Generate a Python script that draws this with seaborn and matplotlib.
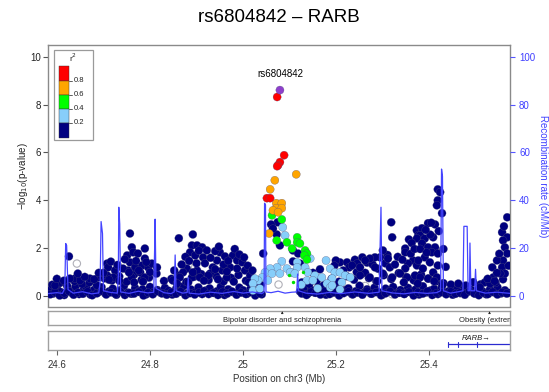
import matplotlib
matplotlib.use("Agg")
import matplotlib.pyplot as plt
from matplotlib.patches import Rectangle
import pandas as pd
import seaborn as sns

TITLE = "rs6804842 \u2013 RARB"
LEAD_SNP = "rs6804842"

# ---- SNP association results: position (Mb, chr3) and -log10(p), by r2 with the lead SNP
lead_pos = [25.079]
lead_logp = [8.61]

red_pos = [25.073, 25.088, 25.079, 25.075, 25.073, 25.051, 25.058]
red_logp = [8.32, 5.88, 5.59, 5.46, 5.42, 4.08, 4.08]

orange_pos = [25.114, 25.068, 25.058, 25.071, 25.083, 25.071, 25.083, 25.064, 25.075, 25.056]
orange_logp = [5.08, 4.83, 4.45, 3.87, 3.87, 3.66, 3.66, 3.57, 3.49, 2.60]

green_pos = [25.062, 25.083, 25.072, 25.094, 25.116, 25.116, 25.122, 25.105, 25.133,
             25.137, 25.131, 25.137]
green_logp = [3.36, 3.19, 2.31, 2.23, 2.44, 2.23, 2.18, 1.97, 1.89, 1.76, 1.68, 1.51]

# a few low-signal green SNPs drawn as small dots
green_small_pos = [25.099, 25.107, 25.128]
green_small_logp = [0.88, 0.55, 1.00]

lightblue_pos = [25.085, 25.090, 25.144, 25.178, 25.083, 25.105, 25.116, 25.116, 25.094,
                 25.073, 25.058, 25.047, 25.062, 25.079, 25.101, 25.111, 25.133, 25.139,
                 25.154, 25.187, 25.197, 25.208, 25.219, 25.169, 25.191, 25.041, 25.032,
                 25.053, 25.137, 25.150, 25.212, 25.180, 25.230, 25.025, 25.021, 25.021,
                 25.036, 25.187, 25.191, 25.208, 25.160, 25.125]
lightblue_logp = [2.86, 2.52, 1.55, 1.47, 1.43, 0.97, 1.39, 1.18, 1.13,
                  1.18, 1.13, 0.97, 0.92, 0.92, 0.97, 0.92, 1.18, 0.97,
                  0.84, 1.13, 0.97, 0.97, 0.84, 0.76, 0.71, 0.76, 0.63,
                  0.63, 0.63, 0.63, 0.55, 0.50, 0.76, 0.71, 0.50, 0.21,
                  0.29, 0.34, 0.42, 0.25, 0.30, 0.45]

navy_pos = [
    # 24.58 - 24.82
    24.757, 24.626, 24.761, 24.708, 24.710, 24.725, 24.639, 24.751, 24.764, 24.774,
    24.789, 24.789, 24.757, 24.768, 24.783, 24.796, 24.753, 24.779, 24.761, 24.789,
    24.742, 24.755, 24.721, 24.708, 24.689, 24.671, 24.650, 24.628, 24.607, 24.596,
    24.804, 24.815,
    24.700, 24.716, 24.730, 24.746, 24.770, 24.776, 24.792, 24.800, 24.734, 24.766,
    24.785, 24.712, 24.600, 24.615, 24.660, 24.680, 24.690, 24.645,
    # 24.84 - 25.02
    24.862, 24.892, 24.890, 24.901, 24.912, 24.922, 24.886, 24.897, 24.914, 24.950,
    24.961, 24.944, 24.978, 24.987, 24.935, 24.879, 24.871, 24.901, 24.929, 24.955,
    24.972, 24.987, 24.965, 24.907, 24.890, 24.864, 24.849, 24.998, 24.925, 24.892,
    25.004, 25.015,
    24.852, 24.868, 24.876, 24.884, 24.905, 24.918, 24.930, 24.940, 24.948, 24.958,
    24.968, 24.982, 24.992, 25.002, 25.010, 25.020, 24.858, 24.882, 24.916, 24.946,
    24.980, 25.012, 24.900, 24.940, 24.965,
    # peak region
    25.043, 25.107, 25.122, 25.074, 25.060, 25.072, 25.079, 25.107, 25.118, 25.208,
    25.223, 25.064, 25.228, 25.199,
    # 25.13 - 25.38
    25.150, 25.165, 25.196, 25.215, 25.240, 25.256, 25.266, 25.278, 25.290, 25.244,
    25.262, 25.288, 25.305, 25.310,
    25.318, 25.320, 25.356, 25.348, 25.348, 25.373, 25.376, 25.300, 25.294, 25.311,
    25.283, 25.272, 25.262, 25.245, 25.234, 25.251, 25.283, 25.315, 25.365, 25.354,
    25.373, 25.348, 25.337, 25.320, 25.300, 25.272, 25.251, 25.352, 25.369,
    # 25.38 - 25.45
    25.418, 25.423, 25.418, 25.416, 25.427, 25.397, 25.412, 25.384, 25.380, 25.373,
    25.390, 25.408, 25.384, 25.397, 25.412, 25.405, 25.418, 25.390, 25.376, 25.401,
    25.418, 25.386, 25.408, 25.380, 25.397, 25.416,
    25.326, 25.332, 25.342, 25.360, 25.362, 25.368, 25.380, 25.394, 25.402, 25.420,
    25.430, 25.435, 25.392, 25.404, 25.345, 25.375, 25.410, 25.428,
    # right edge
    25.567, 25.556, 25.567, 25.558, 25.562, 25.567, 25.558, 25.556, 25.562, 25.545,
    25.535, 25.537, 25.552, 25.519, 25.530, 25.508,
    25.545, 25.550, 25.560, 25.570, 25.525, 25.540,
]
navy_logp = [
    2.60, 1.64, 2.02, 1.34, 1.18, 1.05, 0.71, 1.68, 1.81, 1.76,
    1.97, 1.55, 1.39, 1.18, 1.26, 1.18, 1.05, 0.97, 0.76, 0.76,
    1.13, 0.97, 0.76, 0.84, 0.76, 0.71, 0.63, 0.71, 0.55, 0.42,
    1.34, 1.18,
    0.95, 1.42, 1.28, 1.52, 1.45, 1.05, 1.40, 0.98, 0.62, 0.55,
    0.58, 0.66, 0.70, 0.62, 0.78, 0.68, 0.95, 0.92,
    2.40, 2.56, 2.10, 2.10, 2.02, 1.89, 1.81, 1.68, 1.60, 1.81,
    1.64, 1.47, 1.68, 1.47, 1.18, 1.13, 0.97, 1.05, 0.92, 1.05,
    1.18, 1.13, 0.76, 0.76, 0.76, 0.76, 0.63, 1.39, 0.84, 0.97,
    1.05, 0.84,
    1.05, 1.30, 1.62, 1.45, 1.88, 1.35, 1.58, 1.86, 2.05, 1.30,
    1.45, 1.95, 1.72, 1.60, 1.25, 1.05, 0.50, 0.55, 0.62, 0.68,
    0.58, 0.55, 1.35, 1.10, 1.00,
    1.76, 1.43, 1.34, 3.07, 2.98, 2.56, 2.10, 1.89, 1.76, 1.39,
    1.39, 2.80, 1.18, 1.47,
    0.95, 1.10, 1.25, 1.05, 1.50, 1.60, 1.38, 1.30, 1.12, 0.98,
    0.95, 0.60, 1.35, 1.70,
    3.07, 2.44, 2.35, 1.97, 1.81, 2.73, 2.52, 1.89, 1.60, 1.55,
    1.60, 1.55, 1.47, 1.34, 1.26, 1.18, 1.18, 1.18, 1.47, 1.34,
    1.26, 1.13, 0.92, 0.76, 0.92, 0.76, 0.84, 0.76, 0.84,
    4.45, 4.33, 3.99, 3.78, 3.45, 3.03, 2.98, 2.82, 2.52, 2.39,
    2.39, 2.44, 2.18, 2.02, 2.02, 1.81, 1.76, 1.60, 1.47, 1.39,
    1.26, 1.13, 0.97, 0.76, 0.71, 0.76,
    1.30, 1.62, 1.50, 1.75, 2.20, 1.95, 1.95, 1.80, 2.55, 2.70,
    1.95, 1.20, 2.75, 3.05, 0.55, 0.50, 0.60, 0.45,
    3.28, 2.65, 2.44, 2.31, 2.02, 1.76, 1.47, 1.18, 0.92, 1.47,
    1.18, 0.76, 0.92, 0.55, 0.50, 0.34,
    0.95, 1.75, 2.90, 1.25, 0.70, 0.60,
]

# dense layer of weakly associated SNPs along the whole region
band_pos = [
    24.584, 24.592, 24.600, 24.608, 24.616, 24.624, 24.632, 24.640, 24.648, 24.656,
    24.664, 24.672, 24.680, 24.688, 24.696, 24.704, 24.712, 24.720, 24.728, 24.736,
    24.744, 24.752, 24.760, 24.768, 24.776, 24.784, 24.792, 24.800, 24.808, 24.816,
    24.824, 24.832, 24.840, 24.848, 24.856, 24.864, 24.872, 24.880, 24.888, 24.896,
    24.904, 24.912, 24.920, 24.928, 24.936, 24.944, 24.952, 24.960, 24.968, 24.976,
    24.984, 24.992, 25.000, 25.008, 25.016, 25.024, 25.032, 25.040,
    25.122, 25.130, 25.138, 25.146, 25.154, 25.162, 25.170, 25.178, 25.186, 25.194,
    25.202, 25.210, 25.218, 25.226, 25.234, 25.242, 25.250, 25.258, 25.266, 25.274,
    25.282, 25.290, 25.298, 25.306, 25.314, 25.322, 25.330, 25.338, 25.346, 25.354,
    25.362, 25.370, 25.378, 25.386, 25.394, 25.402, 25.410, 25.418, 25.426, 25.434,
    25.442, 25.450, 25.458, 25.466, 25.474, 25.482, 25.490, 25.498, 25.506, 25.514,
    25.522, 25.530, 25.538, 25.546, 25.554, 25.562, 25.570,
    24.590, 24.606, 24.622, 24.638, 24.654, 24.670, 24.686, 24.702, 24.718, 24.734,
    24.750, 24.766, 24.782, 24.798, 24.814, 24.830, 24.846, 24.862, 24.878, 24.894,
    24.910, 24.926, 24.942, 24.958, 24.974, 24.990, 25.006, 25.022, 25.038,
    25.126, 25.142, 25.158, 25.174, 25.190, 25.206, 25.222, 25.238, 25.254, 25.270,
    25.286, 25.302, 25.318, 25.334, 25.350, 25.366, 25.382, 25.398, 25.414, 25.430,
    25.446, 25.462, 25.478, 25.494, 25.510, 25.526, 25.542, 25.558,
    24.586, 24.596, 24.606, 24.616, 24.626, 24.636, 24.646, 24.656, 24.666, 24.676,
    24.686, 24.696, 24.706, 24.716, 24.726, 24.736, 24.746, 24.756, 24.766, 24.776,
    24.786, 24.796, 24.806, 24.816, 24.826, 24.836, 24.846, 24.856, 24.866, 24.876,
    24.886, 24.896, 24.906, 24.916, 24.926, 24.936, 24.946, 24.956, 24.966, 24.976,
    24.986, 24.996, 25.006, 25.016, 25.026, 25.036,
    25.126, 25.136, 25.146, 25.156, 25.166, 25.176, 25.186, 25.196, 25.206, 25.216,
    25.226, 25.236, 25.246, 25.256, 25.266, 25.276, 25.286, 25.296, 25.306, 25.316,
    25.326, 25.336, 25.346, 25.356, 25.366, 25.376, 25.386, 25.396, 25.406, 25.416,
    25.426, 25.436, 25.446, 25.456, 25.466, 25.476, 25.486, 25.496, 25.506, 25.516,
    25.526, 25.536, 25.546, 25.556, 25.566,
]
band_logp = [
    0.21, 0.08, 0.33, 0.15, 0.02, 0.27, 0.11, 0.38, 0.06, 0.19,
    0.30, 0.04, 0.24, 0.13, 0.35, 0.09, 0.17, 0.29, 0.03, 0.22,
    0.40, 0.12, 0.07, 0.31, 0.18, 0.26, 0.05, 0.36, 0.14, 0.23,
    0.10, 0.32, 0.20, 0.04, 0.28, 0.16, 0.39, 0.08, 0.25, 0.13,
    0.34, 0.06, 0.21, 0.30, 0.11, 0.18, 0.37, 0.02, 0.26, 0.15,
    0.09, 0.33, 0.22, 0.07, 0.29, 0.12, 0.19, 0.05,
    0.17, 0.31, 0.06, 0.24, 0.12, 0.38, 0.20, 0.03, 0.27, 0.14,
    0.35, 0.09, 0.22, 0.30, 0.05, 0.18, 0.41, 0.11, 0.26, 0.08,
    0.33, 0.15, 0.02, 0.29, 0.19, 0.36, 0.10, 0.23, 0.07, 0.32,
    0.16, 0.25, 0.04, 0.39, 0.13, 0.21, 0.28, 0.06, 0.34, 0.12,
    0.19, 0.03, 0.27, 0.10, 0.37, 0.15, 0.24, 0.08, 0.31, 0.18,
    0.05, 0.26, 0.14, 0.35, 0.09, 0.22, 0.11,
    0.45, 0.52, 0.41, 0.60, 0.48, 0.55, 0.43, 0.72, 0.63, 0.80,
    0.58, 0.88, 0.66, 0.75, 0.92, 0.61, 0.70, 0.84, 0.57, 0.78,
    0.90, 0.65, 0.82, 0.59, 0.74, 0.86, 0.62, 0.50, 0.44,
    0.55, 0.48, 0.62, 0.44, 0.70, 0.58, 0.81, 0.66, 0.90, 0.73,
    0.60, 0.85, 0.69, 0.94, 0.77, 0.64, 0.88, 0.71, 0.59, 0.52,
    0.46, 0.50, 0.42, 0.56, 0.47, 0.61, 0.53, 0.68,
    0.05, 0.14, 0.00, 0.10, 0.18, 0.03, 0.12, 0.07, 0.16, 0.01,
    0.09, 0.19, 0.04, 0.13, 0.06, 0.17, 0.02, 0.11, 0.08, 0.15,
    0.00, 0.12, 0.05, 0.18, 0.09, 0.03, 0.14, 0.07, 0.16, 0.01,
    0.10, 0.04, 0.13, 0.19, 0.06, 0.11, 0.02, 0.15, 0.08, 0.17,
    0.03, 0.12, 0.06, 0.14, 0.00, 0.09,
    0.08, 0.02, 0.15, 0.11, 0.04, 0.18, 0.06, 0.13, 0.00, 0.10,
    0.16, 0.05, 0.12, 0.03, 0.19, 0.07, 0.14, 0.01, 0.09, 0.17,
    0.04, 0.11, 0.06, 0.15, 0.00, 0.13, 0.08, 0.18, 0.02, 0.10,
    0.14, 0.05, 0.16, 0.07, 0.12, 0.03, 0.19, 0.09, 0.01, 0.11,
    0.06, 0.15, 0.04, 0.13, 0.08,
]

# SNPs without LD information (open grey circles)
nold_pos = [24.643, 24.897, 25.076, 25.320, 25.262]
nold_logp = [1.34, 1.18, 0.46, 0.05, 0.40]

# ---- recombination rate (cM/Mb)
rec_pos = [24.581, 24.600, 24.612, 24.617, 24.619, 24.621, 24.624, 24.635, 24.655, 24.675,
           24.690, 24.693, 24.695, 24.698, 24.700, 24.715, 24.730, 24.732, 24.733, 24.735,
           24.737, 24.755, 24.775, 24.795, 24.808, 24.810, 24.811, 24.813, 24.830, 24.845,
           24.852, 24.854, 24.856, 24.870, 24.880, 24.882, 24.884, 24.905, 24.930, 24.955,
           24.980, 25.000, 25.020, 25.040, 25.045, 25.046, 25.048, 25.049, 25.060, 25.075,
           25.090, 25.105, 25.115, 25.117, 25.119, 25.135, 25.160, 25.185, 25.210, 25.240,
           25.270, 25.292, 25.294, 25.296, 25.298, 25.320, 25.345, 25.370, 25.395, 25.415,
           25.424, 25.426, 25.428, 25.430, 25.445, 25.460, 25.472, 25.474, 25.481, 25.483,
           25.486, 25.487, 25.489, 25.497, 25.499, 25.501, 25.520, 25.545, 25.573]
rec_rate = [0.8, 1.2, 0.9, 3.0, 21.8, 21.0, 2.5, 1.0, 1.6, 0.7,
            1.1, 6.0, 31.0, 26.0, 2.0, 1.3, 1.0, 8.0, 37.0, 30.0,
            1.5, 0.9, 1.8, 1.1, 1.4, 20.0, 32.0, 3.0, 1.2, 0.8,
            1.5, 17.0, 2.0, 1.0, 1.3, 7.5, 1.0, 0.6, 1.4, 0.9,
            1.7, 1.0, 1.5, 0.8, 1.5, 38.7, 38.0, 1.5, 1.2, 1.8,
            1.0, 1.4, 1.5, 9.0, 2.0, 1.0, 0.6, 1.3, 0.8, 1.5,
            0.9, 1.4, 20.0, 37.0, 2.0, 1.1, 0.7, 1.3, 0.9, 1.2,
            2.0, 53.0, 50.0, 2.0, 1.0, 1.5, 2.0, 29.0, 29.0, 2.0,
            2.0, 22.0, 2.0, 2.0, 11.0, 2.0, 1.0, 1.4, 0.9]

# ---- GWAS catalog hits and genes
catalog_pos = [25.084, 25.529]
catalog_traits = ["Bipolar disorder and schizophrenia", "Obesity (extreme)"]

gene_name = "RARB"
gene_start, gene_end = 25.439, 25.640
gene_exons = [25.439, 25.461, 25.502]

x_ticks = [24.6, 24.8, 25.0, 25.2, 25.4]
x_tick_labels = ["24.6", "24.8", "25", "25.2", "25.4"]
y_ticks = [0, 2, 4, 6, 8, 10]
rec_ticks = [0, 20, 40, 60, 80, 100]
legend_breaks = ["0.8", "0.6", "0.4", "0.2"]

XLIM = (24.581, 25.573)

LD_COLORS = {
    "0.0-0.2": "#000080",
    "0.2-0.4": "#87CEFA",
    "0.4-0.6": "#00FF00",
    "0.6-0.8": "#FFA500",
    "0.8-1.0": "#FF0000",
    "lead": "#8E3FCB",
}
LD_ORDER = ["0.0-0.2", "0.2-0.4", "0.4-0.6", "0.6-0.8", "0.8-1.0", "lead"]
REC_COLOR = "#4444FF"
TEXT = "#222222"

# ---- assemble one table, lowest LD first so strong signals sit on top
frames = [
    pd.DataFrame({"pos": band_pos, "logp": band_logp, "ld": "0.0-0.2"}),
    pd.DataFrame({"pos": navy_pos, "logp": navy_logp, "ld": "0.0-0.2"}),
    pd.DataFrame({"pos": lightblue_pos, "logp": lightblue_logp, "ld": "0.2-0.4"}),
    pd.DataFrame({"pos": green_pos, "logp": green_logp, "ld": "0.4-0.6"}),
    pd.DataFrame({"pos": orange_pos, "logp": orange_logp, "ld": "0.6-0.8"}),
    pd.DataFrame({"pos": red_pos, "logp": red_logp, "ld": "0.8-1.0"}),
    pd.DataFrame({"pos": lead_pos, "logp": lead_logp, "ld": "lead"}),
]
snps = pd.concat(frames, ignore_index=True)
recomb = pd.DataFrame({"pos": rec_pos, "rate": rec_rate})

sns.set_theme(style="white")
plt.rcParams["font.family"] = ["Liberation Sans", "DejaVu Sans"]
plt.rcParams["axes.edgecolor"] = "#8a8a8a"
plt.rcParams["axes.linewidth"] = 1.0

W, H = 549, 392
fig = plt.figure(figsize=(W / 100, H / 100), dpi=100)
fig.patch.set_facecolor("white")


def fig_rect(x0, y0, x1, y1):
    return [x0 / W, 1 - y1 / H, (x1 - x0) / W, (y1 - y0) / H]


ax = fig.add_axes(fig_rect(48, 45, 510, 306.5))
ax_cat = fig.add_axes(fig_rect(48, 311, 510, 325))
ax_gene = fig.add_axes(fig_rect(48, 331, 510, 349.5))

# ---- association scatter
sns.scatterplot(data=snps, x="pos", y="logp", hue="ld", hue_order=LD_ORDER,
                palette=LD_COLORS, s=34, linewidth=0.2, edgecolor="#50507a",
                legend=False, ax=ax, zorder=3)
sns.scatterplot(x=green_small_pos, y=green_small_logp, color="#00DD00", s=6,
                linewidth=0, ax=ax, zorder=3)
sns.scatterplot(x=nold_pos, y=nold_logp, facecolor="none", edgecolor="#b0b0b8",
                s=28, linewidth=0.8, ax=ax, zorder=2)

ax.set_xlim(*XLIM)
ax.set_ylim(-0.46, 10.5)
ax.set_xticks([])
ax.set_yticks(y_ticks)
ax.set_yticklabels([str(t) for t in y_ticks])
ax.tick_params(axis="y", direction="out", length=3.5, width=0.8, color="#555555",
               labelsize=7, labelcolor=TEXT, pad=1.5, left=True)
ax.set_xlabel("")
ax.set_ylabel("\u2212log$_{10}$(p-value)", fontsize=7, color=TEXT)
ax.yaxis.set_label_coords(-0.040, 0.5)

ax.text(lead_pos[0], 9.29, LEAD_SNP, ha="center", va="center", fontsize=7, color="black",
        zorder=5)

# ---- recombination overlay on the right axis
ax2 = ax.twinx()
sns.lineplot(data=recomb, x="pos", y="rate", sort=False, estimator=None,
             color=REC_COLOR, linewidth=0.9, ax=ax2)
ax2.set_ylim(-4.6, 105)
ax2.set_xlim(*XLIM)
ax2.set_yticks(rec_ticks)
ax2.set_yticklabels([str(t) for t in rec_ticks])
ax2.tick_params(axis="y", direction="out", length=3.5, width=0.8, color="#5555ff",
                labelsize=7, labelcolor="#4040ff", pad=3, right=True)
ax2.set_xlabel("")
ax2.set_ylabel("Recombination rate (cM/Mb)", fontsize=7, color="#4040ff",
               rotation=270, labelpad=9)
for sp in ax2.spines.values():
    sp.set_visible(False)

# ---- r2 colour key in the upper-left corner
def ax_frac(px, py):
    return (px - 48) / 462, 1 - (py - 45) / 261.5

kx0, ky0 = ax_frac(54, 140)
kx1, ky1 = ax_frac(93, 50)
ax.add_patch(Rectangle((kx0, ky0), kx1 - kx0, ky1 - ky0, transform=ax.transAxes,
                       facecolor="white", edgecolor="#9a9a9a", linewidth=0.9, zorder=6))
edges = [66, 81, 95, 109, 123, 138]
key_cols = ["0.8-1.0", "0.6-0.8", "0.4-0.6", "0.2-0.4", "0.0-0.2"]
for i, key in enumerate(key_cols):
    bx0, by_top = ax_frac(59, edges[i])
    bx1, by_bot = ax_frac(69, edges[i + 1])
    ax.add_patch(Rectangle((bx0, by_bot), bx1 - bx0, by_top - by_bot, transform=ax.transAxes,
                           facecolor=LD_COLORS[key], edgecolor="#333333", linewidth=0.3,
                           zorder=7))
for i, lab in enumerate(legend_breaks):
    tx0, ty = ax_frac(69, edges[i + 1])
    tx1, _ = ax_frac(72, edges[i + 1])
    ax.plot([tx0, tx1], [ty, ty], transform=ax.transAxes, color="#444444", lw=0.6,
            zorder=7, clip_on=False)
    lx, _ = ax_frac(74, edges[i + 1])
    ax.text(lx, ty, lab, transform=ax.transAxes, fontsize=5.5, color=TEXT,
            ha="left", va="center", zorder=7)
rx, ry = ax_frac(73.5, 58)
ax.text(rx, ry, "r$^2$", transform=ax.transAxes, fontsize=6, color=TEXT,
        ha="center", va="center", zorder=7)

# ---- GWAS catalog track
ax_cat.set_xlim(*XLIM)
ax_cat.set_ylim(0, 1)
ax_cat.set_xticks([])
ax_cat.set_yticks([])
for p, trait in zip(catalog_pos, catalog_traits):
    ax_cat.annotate("", xy=(p, 0.98), xytext=(p, 0.66),
                    arrowprops=dict(arrowstyle="-|>", lw=0.5, color="#222222",
                                    mutation_scale=3))
    ax_cat.text(p, 0.3, trait, ha="center", va="center", fontsize=5.5, color=TEXT,
                clip_on=True)
for sp in ax_cat.spines.values():
    sp.set_color("#a0a0a0")

# ---- gene track
ax_gene.set_xlim(*XLIM)
ax_gene.set_ylim(0, 1)
ax_gene.set_yticks([])
ax_gene.plot([gene_start, gene_end], [0.28, 0.28], color="#2b2bd0", lw=0.9)
for e in gene_exons:
    ax_gene.plot([e, e], [0.16, 0.40], color="#2b2bd0", lw=0.8)
ax_gene.text(25.500, 0.62, gene_name + "\u2192", ha="center", va="center", fontsize=5.5,
             style="italic", color=TEXT, clip_on=True)
for sp in ax_gene.spines.values():
    sp.set_color("#a0a0a0")
ax_gene.set_xticks(x_ticks)
ax_gene.set_xticklabels(x_tick_labels)
ax_gene.tick_params(axis="x", direction="out", length=3.5, width=0.8, color="#666666",
                    labelsize=7, labelcolor="#333333", pad=4, bottom=True)
ax_gene.set_xlabel("Position on chr3 (Mb)", fontsize=7, color="#333333", labelpad=3)

fig.text(279 / W, 1 - 18 / H, TITLE, ha="center", va="center", fontsize=13.5,
         color="black")

fig.savefig("out.png", dpi=100, facecolor="white")
